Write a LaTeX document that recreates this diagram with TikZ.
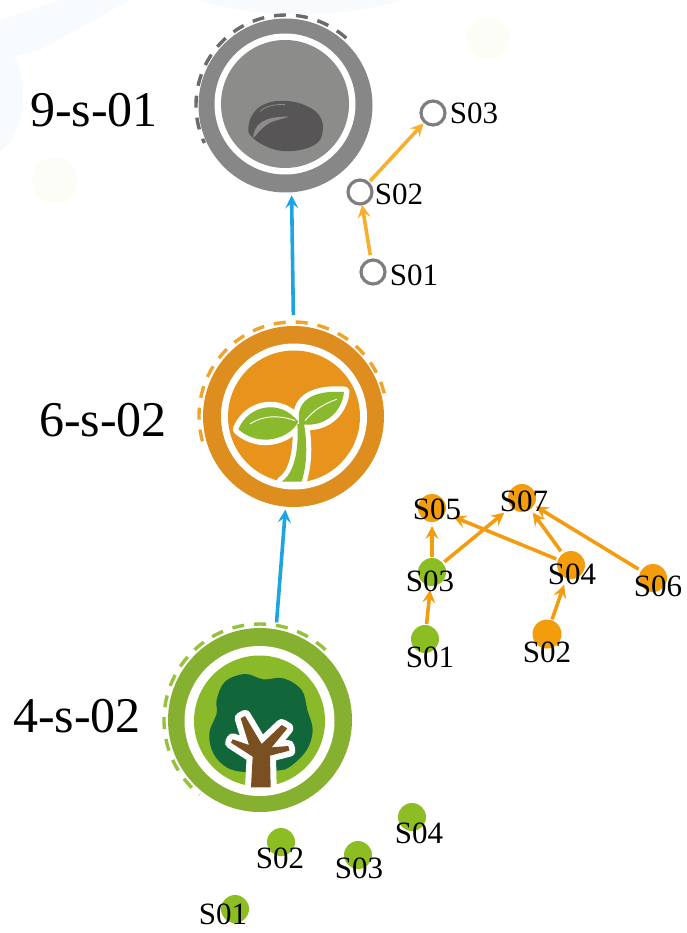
\documentclass[tikz,border=0pt]{standalone}
\usepackage{fontspec}
\setmainfont{Liberation Serif}
\usetikzlibrary{arrows.meta}
\definecolor{grayOuter}{HTML}{878787}
\definecolor{grayInner}{HTML}{8C8C8B}
\definecolor{grayDash}{HTML}{6B6B6B}
\definecolor{seedDark}{HTML}{575556}
\definecolor{orangeOuter}{HTML}{DE8E1F}
\definecolor{orangeInner}{HTML}{E8941C}
\definecolor{orangeDash}{HTML}{F0A42C}
\definecolor{leafGreen}{HTML}{8AB92D}
\definecolor{greenOuter}{HTML}{85B030}
\definecolor{greenInner}{HTML}{8AB92A}
\definecolor{greenDash}{HTML}{95C13D}
\definecolor{crown}{HTML}{12673A}
\definecolor{bark}{HTML}{7A4F22}
\definecolor{arrowBlue}{HTML}{1CA5E0}
\definecolor{arrowPale}{HTML}{F7B02E}
\definecolor{arrowOrange}{HTML}{F39C12}
\definecolor{dotOrange}{HTML}{F39C0C}
\definecolor{dotGreen}{HTML}{8CBD22}
\definecolor{hollow}{HTML}{7E7E7E}
\definecolor{faintBlue}{HTML}{F8FBFD}
\definecolor{faintYellow}{HTML}{FDFDF7}
\tikzset{
  x=1pt,y=-1pt,
  bigring/.style={circle,inner sep=0pt,outer sep=0pt,minimum size=#1},
  biglabel/.style={inner sep=0pt,text=black,font=\fontsize{50}{50}\selectfont},
  smalllabel/.style={inner sep=0pt,text=black,font=\fontsize{31}{31}\selectfont},
  dotbase/.style={circle,inner sep=0pt,outer sep=0pt,minimum size=#1},
  orangedot/.style={dotbase=28pt,fill=dotOrange},
  greendot/.style={dotbase=28pt,fill=dotGreen},
  hollowdot/.style={dotbase=24pt,draw=hollow,line width=3.2pt,fill=white},
  blueconn/.style={draw=arrowBlue,line width=3.6pt,-{Stealth[length=13pt,width=13pt,inset=5pt]}},
  paleconn/.style={draw=arrowPale,line width=3.6pt,-{Stealth[length=13pt,width=13pt,inset=5pt]}},
  orangeconn/.style={draw=arrowOrange,line width=3.6pt,-{Stealth[length=13pt,width=13pt,inset=5pt]}},
  dashring/.style={line width=3.4pt,dash pattern=on 12pt off 10pt},
}
\begin{document}
\begin{tikzpicture}
\useasboundingbox (0,0) rectangle (687,933);
\fill[white] (0,0) rectangle (687,933);
% faint background
\begin{scope}
\clip (0,0) rectangle (687,933);
\fill[faintBlue] (300,-30) ellipse [x radius=140,y radius=44];
\fill[faintBlue] (-15,95) ellipse [x radius=38,y radius=62];
\fill[faintBlue] (0,20) -- (60,0) -- (130,0) -- (40,50) -- (0,60) -- cycle;
\fill[faintYellow] (488,38) circle [radius=21];
\fill[faintYellow] (55,180) circle [radius=23];
\end{scope}

% --- gray stage
\node[bigring=174pt,fill=grayOuter] (gray) at (285.5,105.5) {};
\draw[grayDash,dashring] (286,105) ++(-48:90) arc[start angle=-48,end angle=-205,radius=90];
\node[bigring=141pt,fill=white] (grayw) at (285,104) {};
\node[bigring=128pt,fill=grayInner] (grayi) at (285,104) {};
\begin{scope}[shift={(170,0)},scale=1/3]
\fill[seedDark] plot[smooth cycle,tension=.7] coordinates {(235,385)(250,340)(290,310)(350,303)(410,318)(450,350)(458,395)(440,430)(390,450)(330,452)(280,435)(245,410)};
\fill[grayInner] plot[smooth cycle,tension=.6] coordinates {(250,412)(262,378)(298,356)(355,350)(305,366)(278,384)};
\draw[grayInner,line width=.8pt] (270,335) .. controls (285,318) and (315,312) .. (345,314);
\end{scope}

% --- orange stage
\node[bigring=181pt,fill=orangeOuter] (orange) at (293.5,416.5) {};
\draw[orangeDash,dashring] (293,416) ++(-14:94) arc[start angle=-14,end angle=-200,radius=94];
\node[bigring=146pt,fill=white] (orangew) at (294,416.5) {};
\node[bigring=132pt,fill=orangeInner] (orangei) at (294,416.5) {};
\begin{scope}[shift={(180,300)},scale=1/3]
\def\sproutstem{(372,372) .. controls (382,430) and (382,490) .. (365,545) -- (305,545) .. controls (335,525) and (358,470) .. (352,372) -- cycle}
\def\leafL{(175,388) .. controls (205,315) and (300,295) .. (355,365) .. controls (330,415) and (240,445) .. (175,388) -- cycle}
\def\leafR{(358,372) .. controls (345,300) and (400,270) .. (492,276) .. controls (485,340) and (430,385) .. (358,372) -- cycle}
\draw[white,line width=10pt,line join=round,fill=white] \sproutstem;
\draw[white,line width=11pt,line join=round,fill=white] \leafL;
\draw[white,line width=11pt,line join=round,fill=white] \leafR;
\fill[leafGreen] \sproutstem;
\fill[leafGreen] \leafL;
\fill[leafGreen] \leafR;
\draw[white,line width=.9pt] (210,372) .. controls (250,345) and (300,345) .. (345,362);
\draw[white,line width=.9pt] (375,362) .. controls (400,330) and (435,310) .. (470,298);
\end{scope}

% --- green stage
\node[bigring=184pt,fill=greenOuter] (green) at (260,720) {};
\draw[greenDash,dashring] (260,720) ++(-47:96) arc[start angle=-47,end angle=-231,radius=96];
\node[bigring=150pt,fill=white] (greenw) at (259.5,721) {};
\node[bigring=131pt,fill=greenInner] (greeni) at (259.5,721) {};
\begin{scope}[shift={(150,610)},scale=1/3]
\fill[crown] plot[smooth cycle,tension=.6] coordinates {(200,270)(225,215)(285,192)(340,208)(400,205)(455,240)(472,300)(488,360)(470,420)(420,470)(380,482)(285,486)(230,472)(190,430)(178,370)(200,310)};
\def\treeshape{(303,532) -- (308,440) -- (243,398) -- (248,388) -- (297,405) -- (272,325) -- (285,318) -- (335,402) -- (395,345) -- (412,355) -- (365,412) -- (415,408) -- (418,422) -- (360,437) -- (362,532) -- cycle}
\draw[white,line width=12pt,line join=round,fill=white] \treeshape;
\fill[bark] \treeshape;
\end{scope}

% --- stage connectors
\draw[blueconn,shorten <=7pt,shorten >=3pt] (green.80) -- (orange.-95);
\draw[blueconn,shorten <=11pt,shorten >=3pt] (orange.90) -- (gray.-86);

% --- stage labels
\node[biglabel] (lab9) at (94,110) {9-s-01};
\node[biglabel] (lab6) at (103,420) {6-s-02};
\node[biglabel] (lab4) at (77,716) {4-s-02};

% --- gray panel
\node[hollowdot] (gS03) at (433,113) {};
\node[hollowdot] (gS02) at (360,192) {};
\node[hollowdot] (gS01) at (373,272) {};
\draw[paleconn,shorten <=5pt,shorten >=1pt] (gS01) -- (gS02);
\draw[paleconn,shorten <=3pt,shorten >=2pt] (gS02) -- (gS03);
\node[smalllabel] (lgS03) at (474,113) {S03};
\node[smalllabel] (lgS02) at (399,194) {S02};
\node[smalllabel] (lgS01) at (414,275) {S01};

% --- orange/green panel
\node[orangedot] (mS05) at (432,508) {};
\node[orangedot] (mS07) at (522,498) {};
\node[greendot] (mS03) at (432,572) {};
\node[orangedot] (mS04) at (571,565) {};
\node[orangedot] (mS06) at (653,578) {};
\node[greendot] (mS01) at (425,639) {};
\node[orangedot,minimum size=29pt] (mS02) at (547,634) {};
\draw[orangeconn,shorten <=1pt,shorten >=4pt] (mS01) -- (mS03);
\draw[orangeconn,shorten <=1pt,shorten >=4pt] (mS03) -- (mS05);
\draw[orangeconn,shorten <=2pt,shorten >=9pt] (mS03) -- (mS07);
\draw[orangeconn,shorten <=2pt,shorten >=9pt] (mS04) -- (mS05);
\draw[orangeconn,shorten <=3pt,shorten >=4pt] (mS04) -- (mS07);
\draw[orangeconn,shorten <=3pt,shorten >=2pt] (mS06) -- (mS07);
\draw[orangeconn,shorten <=1pt,shorten >=7pt] (mS02) -- (mS04);
\node[smalllabel] (lmS05) at (437,509) {S05};
\node[smalllabel] (lmS07) at (524,501) {S07};
\node[smalllabel] (lmS03) at (430,581) {S03};
\node[smalllabel] (lmS04) at (572,574) {S04};
\node[smalllabel] (lmS06) at (658,586) {S06};
\node[smalllabel] (lmS01) at (430,657) {S01};
\node[smalllabel] (lmS02) at (547,652) {S02};

% --- bottom dots
\node[greendot] (bS01) at (235,909) {};
\node[greendot] (bS02) at (281,842) {};
\node[greendot] (bS03) at (358,855) {};
\node[greendot] (bS04) at (412,817) {};
\node[smalllabel] (lbS01) at (223,914) {S01};
\node[smalllabel] (lbS02) at (280,858) {S02};
\node[smalllabel] (lbS03) at (359,868) {S03};
\node[smalllabel] (lbS04) at (419,833) {S04};
\end{tikzpicture}
\end{document}
